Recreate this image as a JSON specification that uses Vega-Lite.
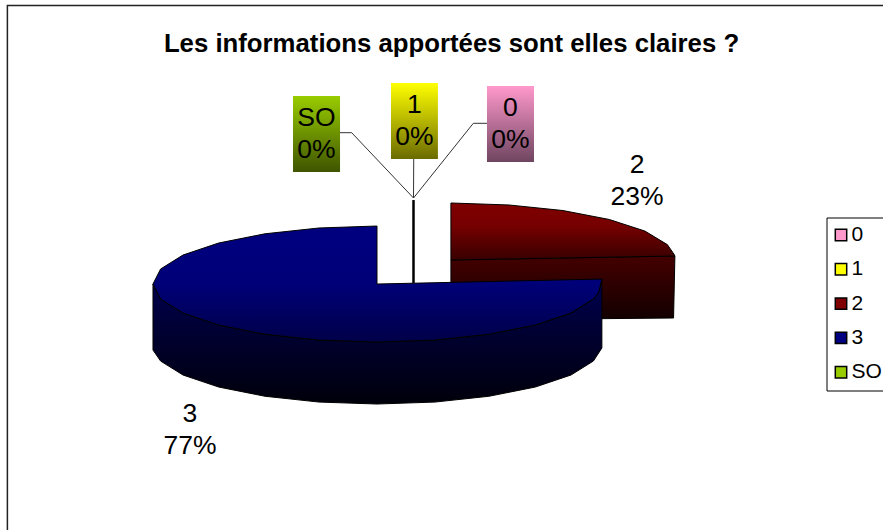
{
"$schema":"https://vega.github.io/schema/vega-lite/v6.json",
"width":883,"height":530,"padding":0,"autosize":"none","background":"white",
"title":{"text":"Les informations apportées sont elles claires ?","font":"Liberation Sans","fontSize":25.75,"fontWeight":"bold","color":"black","anchor":"middle","frame":"group","orient":"top","offset":0,"dx":10,"dy":58},
"config":{"view":{"stroke":null},"font":"Liberation Sans"},
"datasets":{
"outlines":[
{"part":"frame","i":0,"x":-1.65,"y":-4.241},{"part":"frame","i":1,"x":-1.65,"y":4.802},{"part":"frame","i":2,"x":2.259,"y":4.802},
{"part":"redSide","i":0,"x":0.33,"y":0.414},{"part":"redSide","i":1,"x":1.33,"y":0.483},{"part":"redSide","i":2,"x":1.324,"y":-0.586},{"part":"redSide","i":3,"x":0.33,"y":-0.621},{"part":"redSide","i":4,"x":0.33,"y":0.414},
{"part":"redTop","i":0,"x":0.33,"y":0.414},{"part":"redTop","i":1,"x":0.33,"y":1.397},{"part":"redTop","i":2,"x":0.589,"y":1.363},{"part":"redTop","i":3,"x":0.83,"y":1.267},{"part":"redTop","i":4,"x":1.037,"y":1.113},{"part":"redTop","i":5,"x":1.196,"y":0.913},{"part":"redTop","i":6,"x":1.296,"y":0.68},{"part":"redTop","i":7,"x":1.326,"y":0.514},{"part":"redTop","i":8,"x":1.33,"y":0.483},{"part":"redTop","i":9,"x":0.33,"y":0.414},
{"part":"blueSide","i":0,"x":-1,"y":0},{"part":"blueSide","i":1,"x":-0.966,"y":-0.259},{"part":"blueSide","i":2,"x":-0.866,"y":-0.5},{"part":"blueSide","i":3,"x":-0.707,"y":-0.707},{"part":"blueSide","i":4,"x":-0.5,"y":-0.866},{"part":"blueSide","i":5,"x":-0.259,"y":-0.966},{"part":"blueSide","i":6,"x":0,"y":-1},{"part":"blueSide","i":7,"x":0.259,"y":-0.966},{"part":"blueSide","i":8,"x":0.5,"y":-0.866},{"part":"blueSide","i":9,"x":0.707,"y":-0.707},{"part":"blueSide","i":10,"x":0.866,"y":-0.5},{"part":"blueSide","i":11,"x":0.966,"y":-0.259},{"part":"blueSide","i":12,"x":0.99,"y":-0.139},{"part":"blueSide","i":13,"x":1.004,"y":0.086},{"part":"blueSide","i":14,"x":1.004,"y":-1.103},{"part":"blueSide","i":15,"x":0.966,"y":-1.328},{"part":"blueSide","i":16,"x":0.866,"y":-1.569},{"part":"blueSide","i":17,"x":0.707,"y":-1.776},{"part":"blueSide","i":18,"x":0.5,"y":-1.935},{"part":"blueSide","i":19,"x":0.259,"y":-2.035},{"part":"blueSide","i":20,"x":0,"y":-2.069},{"part":"blueSide","i":21,"x":-0.259,"y":-2.035},{"part":"blueSide","i":22,"x":-0.5,"y":-1.935},{"part":"blueSide","i":23,"x":-0.707,"y":-1.776},{"part":"blueSide","i":24,"x":-0.866,"y":-1.569},{"part":"blueSide","i":25,"x":-0.966,"y":-1.328},{"part":"blueSide","i":26,"x":-1,"y":-1.138},{"part":"blueSide","i":27,"x":-1,"y":0},
{"part":"blueTop","i":0,"x":0,"y":0},{"part":"blueTop","i":1,"x":0,"y":1},{"part":"blueTop","i":2,"x":-0.259,"y":0.966},{"part":"blueTop","i":3,"x":-0.5,"y":0.866},{"part":"blueTop","i":4,"x":-0.707,"y":0.707},{"part":"blueTop","i":5,"x":-0.866,"y":0.5},{"part":"blueTop","i":6,"x":-0.966,"y":0.259},{"part":"blueTop","i":7,"x":-1,"y":0},{"part":"blueTop","i":8,"x":-0.966,"y":-0.259},{"part":"blueTop","i":9,"x":-0.866,"y":-0.5},{"part":"blueTop","i":10,"x":-0.707,"y":-0.707},{"part":"blueTop","i":11,"x":-0.5,"y":-0.866},{"part":"blueTop","i":12,"x":-0.259,"y":-0.966},{"part":"blueTop","i":13,"x":0,"y":-1},{"part":"blueTop","i":14,"x":0.259,"y":-0.966},{"part":"blueTop","i":15,"x":0.5,"y":-0.866},{"part":"blueTop","i":16,"x":0.707,"y":-0.707},{"part":"blueTop","i":17,"x":0.866,"y":-0.5},{"part":"blueTop","i":18,"x":0.966,"y":-0.259},{"part":"blueTop","i":19,"x":0.99,"y":-0.139},{"part":"blueTop","i":20,"x":1.004,"y":0.086},{"part":"blueTop","i":21,"x":0,"y":0},
{"part":"leadSO","i":0,"x":-0.165,"y":2.609},{"part":"leadSO","i":1,"x":-0.113,"y":2.609},{"part":"leadSO","i":2,"x":0.163,"y":1.483},
{"part":"lead1","i":0,"x":0.164,"y":2.155},{"part":"lead1","i":1,"x":0.163,"y":1.483},
{"part":"lead0","i":0,"x":0.491,"y":2.771},{"part":"lead0","i":1,"x":0.43,"y":2.771},{"part":"lead0","i":2,"x":0.163,"y":1.483},
{"part":"stem","i":0,"x":0.163,"y":1.448},{"part":"stem","i":1,"x":0.163,"y":0.017}
],
"slices":[
{"cat":"0","share":0,"label":"0\n0%","lx":0.596,"ly":3.034,"bx":0.491,"bx2":0.701,"by":3.414,"by2":2.103},
{"cat":"1","share":0,"label":"1\n0%","lx":0.167,"ly":3.086,"bx":0.0625,"bx2":0.272,"by":3.466,"by2":2.155},
{"cat":"2","share":23,"label":"2\n23%","lx":1.161,"ly":2.052},
{"cat":"3","share":77,"label":"3\n77%","lx":-0.835,"ly":-2.241},
{"cat":"SO","share":0,"label":"SO\n0%","lx":-0.27,"ly":2.862,"bx":-0.375,"bx2":-0.165,"by":3.241,"by2":1.931}
]},
"encoding":{
"x":{"field":"x","type":"quantitative","axis":null,"scale":{"domain":[-1.683,2.259],"nice":false,"zero":false}},
"y":{"field":"y","type":"quantitative","axis":null,"scale":{"domain":[-4.241,4.897],"nice":false,"zero":false}},
"order":{"field":"i","type":"quantitative"}
},
"layer":[
{"data":{"name":"outlines"},"transform":[{"filter":"datum.part==='frame'"}],"mark":{"type":"line","stroke":"#222222","strokeWidth":1.5,"clip":false}},
{"data":{"name":"outlines"},"transform":[{"filter":"datum.part==='redSide'"}],"mark":{"type":"line","stroke":"black","strokeWidth":1,"fill":{"gradient":"linear","x1":0,"y1":0,"x2":0,"y2":1,"stops":[{"offset":0,"color":"#440000"},{"offset":1,"color":"#120000"}]}}},
{"data":{"name":"outlines"},"transform":[{"filter":"datum.part==='redTop'"}],"mark":{"type":"line","stroke":"black","strokeWidth":1,"fill":{"gradient":"linear","x1":0,"y1":0,"x2":0,"y2":1,"stops":[{"offset":0,"color":"#800000"},{"offset":0.4,"color":"#760000"},{"offset":1,"color":"#380000"}]}}},
{"data":{"name":"outlines"},"transform":[{"filter":"datum.part==='stem'"}],"mark":{"type":"line","stroke":"black","strokeWidth":2.5}},
{"data":{"name":"outlines"},"transform":[{"filter":"datum.part==='blueSide'"}],"mark":{"type":"line","stroke":"black","strokeWidth":1,"fill":{"gradient":"linear","x1":0,"y1":0,"x2":0,"y2":1,"stops":[{"offset":0,"color":"#000050"},{"offset":1,"color":"#00000a"}]}}},
{"data":{"name":"outlines"},"transform":[{"filter":"datum.part==='blueTop'"}],"mark":{"type":"line","stroke":"black","strokeWidth":1,"fill":{"gradient":"linear","x1":0,"y1":0,"x2":0,"y2":1,"stops":[{"offset":0,"color":"#000080"},{"offset":0.5,"color":"#000078"},{"offset":1,"color":"#000048"}]}}},
{"data":{"name":"outlines"},"transform":[{"filter":"datum.part==='leadSO'||datum.part==='lead1'||datum.part==='lead0'"}],"mark":{"type":"line","stroke":"#333333","strokeWidth":1},"encoding":{"detail":{"field":"part"}}},
{"data":{"name":"slices"},"transform":[{"filter":"datum.cat==='SO'"}],"mark":{"type":"rect","fill":{"gradient":"linear","x1":0,"y1":0,"x2":0,"y2":1,"stops":[{"offset":0,"color":"#99CC00"},{"offset":1,"color":"#3F5500"}]}},"encoding":{"x":{"field":"bx","type":"quantitative","scale":{"domain":[-1.683,2.259],"nice":false,"zero":false},"axis":null},"x2":{"field":"bx2"},"y":{"field":"by","type":"quantitative","scale":{"domain":[-4.241,4.897],"nice":false,"zero":false},"axis":null},"y2":{"field":"by2"},"order":null}},
{"data":{"name":"slices"},"transform":[{"filter":"datum.cat==='1'"}],"mark":{"type":"rect","fill":{"gradient":"linear","x1":0,"y1":0,"x2":0,"y2":1,"stops":[{"offset":0,"color":"#FFFF00"},{"offset":1,"color":"#6B6B00"}]}},"encoding":{"x":{"field":"bx","type":"quantitative","scale":{"domain":[-1.683,2.259],"nice":false,"zero":false},"axis":null},"x2":{"field":"bx2"},"y":{"field":"by","type":"quantitative","scale":{"domain":[-4.241,4.897],"nice":false,"zero":false},"axis":null},"y2":{"field":"by2"},"order":null}},
{"data":{"name":"slices"},"transform":[{"filter":"datum.cat==='0'"}],"mark":{"type":"rect","fill":{"gradient":"linear","x1":0,"y1":0,"x2":0,"y2":1,"stops":[{"offset":0,"color":"#FF99CC"},{"offset":1,"color":"#6F4560"}]}},"encoding":{"x":{"field":"bx","type":"quantitative","scale":{"domain":[-1.683,2.259],"nice":false,"zero":false},"axis":null},"x2":{"field":"bx2"},"y":{"field":"by","type":"quantitative","scale":{"domain":[-4.241,4.897],"nice":false,"zero":false},"axis":null},"y2":{"field":"by2"},"order":null}},
{"data":{"name":"slices"},"mark":{"type":"text","font":"Liberation Sans","fontSize":26.5,"lineBreak":"\n","lineHeight":32,"color":"black","align":"center","baseline":"middle"},"encoding":{"x":{"field":"lx","type":"quantitative","scale":{"domain":[-1.683,2.259],"nice":false,"zero":false},"axis":null},"y":{"field":"ly","type":"quantitative","scale":{"domain":[-4.241,4.897],"nice":false,"zero":false},"axis":null},"text":{"field":"label"},"order":null}},
{"data":{"name":"slices"},"mark":{"type":"square","size":0,"opacity":1},"encoding":{"x":{"field":"lx","type":"quantitative","scale":{"domain":[-1.683,2.259],"nice":false,"zero":false},"axis":null},"y":{"field":"ly","type":"quantitative","scale":{"domain":[-4.241,4.897],"nice":false,"zero":false},"axis":null},"order":null,"color":{"field":"cat","type":"nominal","scale":{"domain":["0","1","2","3","SO"],"range":["#FF99CC","#FFFF00","#800000","#000080","#99CC00"]},"legend":{"title":null,"orient":"none","legendX":826.5,"legendY":217.5,"padding":7.5,"strokeColor":"black","fillColor":"white","symbolType":"square","symbolSize":130,"symbolStrokeColor":"black","symbolStrokeWidth":1.5,"symbolOpacity":1,"symbolOffset":-3.5,"labelFont":"Liberation Sans","labelFontSize":21,"labelColor":"black","rowPadding":13.3,"labelOffset":0,"clipHeight":20}}}}
]
}
